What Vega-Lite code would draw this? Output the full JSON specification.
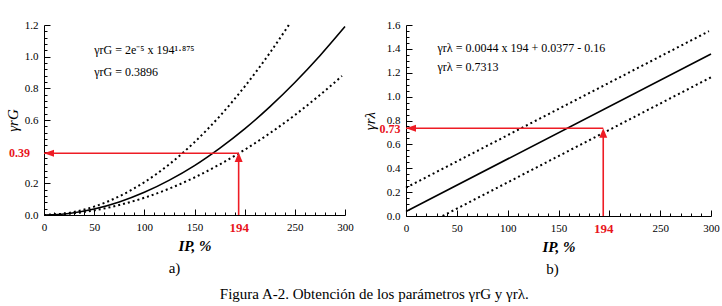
{
  "$schema": "https://vega.github.io/schema/vega-lite/v6.json",
  "background": "white",
  "padding": {"left": 5, "top": 19, "right": 5, "bottom": 5},
  "spacing": 8,
  "title": {"text": "Figura A-2. Obtención de los parámetros γrG y γrλ.", "orient": "bottom", "anchor": "middle", "font": "Liberation Serif", "fontSize": 15, "fontWeight": "normal", "color": "black", "offset": 10, "dx": 12},
  "config": {
    "font": "Liberation Serif",
    "view": {"stroke": null},
    "axis": {"grid": false, "domainColor": "black", "domainWidth": 1, "tickColor": "black", "tickWidth": 1, "labelFont": "Liberation Serif", "labelFontSize": 11, "labelColor": "black", "titleFont": "Liberation Serif", "titleColor": "black", "labelFlush": false, "labelOverlap": false}
  },
  "datasets": {
    "leftCurves": [
      {"series": "fit", "x": 0, "y": 0}, {"series": "fit", "x": 25, "y": 0.0098}, {"series": "fit", "x": 50, "y": 0.0375}, {"series": "fit", "x": 75, "y": 0.082}, {"series": "fit", "x": 100, "y": 0.143}, {"series": "fit", "x": 125, "y": 0.22}, {"series": "fit", "x": 150, "y": 0.312}, {"series": "fit", "x": 175, "y": 0.421}, {"series": "fit", "x": 200, "y": 0.544}, {"series": "fit", "x": 225, "y": 0.683}, {"series": "fit", "x": 250, "y": 0.837}, {"series": "fit", "x": 275, "y": 1.006}, {"series": "fit", "x": 300, "y": 1.19},
      {"series": "upper", "x": 0, "y": 0}, {"series": "upper", "x": 25, "y": 0.0135}, {"series": "upper", "x": 50, "y": 0.053}, {"series": "upper", "x": 75, "y": 0.118}, {"series": "upper", "x": 100, "y": 0.207}, {"series": "upper", "x": 125, "y": 0.321}, {"series": "upper", "x": 150, "y": 0.46}, {"series": "upper", "x": 175, "y": 0.623}, {"series": "upper", "x": 200, "y": 0.811}, {"series": "upper", "x": 225, "y": 1.023}, {"series": "upper", "x": 244, "y": 1.2},
      {"series": "lower", "x": 0, "y": 0}, {"series": "lower", "x": 25, "y": 0.008}, {"series": "lower", "x": 50, "y": 0.029}, {"series": "lower", "x": 75, "y": 0.063}, {"series": "lower", "x": 100, "y": 0.109}, {"series": "lower", "x": 125, "y": 0.167}, {"series": "lower", "x": 150, "y": 0.237}, {"series": "lower", "x": 175, "y": 0.319}, {"series": "lower", "x": 200, "y": 0.412}, {"series": "lower", "x": 225, "y": 0.516}, {"series": "lower", "x": 250, "y": 0.631}, {"series": "lower", "x": 275, "y": 0.758}, {"series": "lower", "x": 297, "y": 0.878}
    ],
    "rightCurves": [
      {"series": "fit", "x": 0, "y": 0.0377}, {"series": "fit", "x": 300, "y": 1.3577},
      {"series": "upper", "x": 0, "y": 0.237}, {"series": "upper", "x": 298, "y": 1.548},
      {"series": "lower", "x": 36, "y": 0}, {"series": "lower", "x": 300, "y": 1.162}
    ],
    "leftArrows": [
      {"kind": "h", "x": 194, "x2": 0, "y": 0.39, "y2": 0.39},
      {"kind": "v", "x": 194, "x2": 194, "y": 0, "y2": 0.37}
    ],
    "leftHeads": [
      {"kind": "left", "x": 0, "y": 0.39},
      {"kind": "up", "x": 194, "y": 0.395}
    ],
    "rightArrows": [
      {"kind": "h", "x": 194, "x2": 0, "y": 0.735, "y2": 0.735},
      {"kind": "v", "x": 194, "x2": 194, "y": 0, "y2": 0.71}
    ],
    "rightHeads": [
      {"kind": "left", "x": 0, "y": 0.735},
      {"kind": "up", "x": 194, "y": 0.735}
    ],
    "leftNotes": [
      {"x": 50, "y": 1.04, "label": "γrG = 2e⁻⁵ x 194¹·⁸⁷⁵"},
      {"x": 50, "y": 0.905, "label": "γrG = 0.3896"}
    ],
    "rightNotes": [
      {"x": 31, "y": 1.407, "label": "γrλ = 0.0044 x 194 + 0.0377 - 0.16"},
      {"x": 31, "y": 1.25, "label": "γrλ = 0.7313"}
    ],
    "leftRedLabel": [{"x": 0, "y": 0.39, "label": "0.39"}]
  },
  "hconcat": [
    {
      "width": 301,
      "height": 190,
      "title": {"text": "a)", "orient": "bottom", "anchor": "middle", "font": "Liberation Serif", "fontSize": 15, "fontWeight": "normal", "color": "black", "offset": 8, "dx": -20},
      "resolve": {"axis": {"x": "independent", "y": "independent"}},
      "layer": [
        {
          "data": {"name": "leftCurves"},
          "transform": [{"filter": "datum.series == 'fit'"}],
          "mark": {"type": "line", "color": "black", "strokeWidth": 1.6, "interpolate": "monotone"},
          "encoding": {
            "x": {"field": "x", "type": "quantitative", "scale": {"domain": [0, 300], "nice": false, "zero": false},
              "axis": {"orient": "bottom", "values": [0, 50, 100, 150, 194, 250, 300], "ticks": false, "labelPadding": 6, "labelFont": "Liberation Serif", "titleFont": "Liberation Serif", "title": "IP, %", "titleFontSize": 15, "titleFontWeight": "bold", "titleFontStyle": "italic", "titlePadding": 4,
                "labelColor": {"condition": {"test": "datum.value == 194", "value": "#e8141c"}, "value": "black"},
                "labelFontWeight": {"condition": {"test": "datum.value == 194", "value": "bold"}, "value": "normal"},
                "labelFontSize": {"condition": {"test": "datum.value == 194", "value": 13}, "value": 11}}},
            "y": {"field": "y", "type": "quantitative", "scale": {"domain": [0, 1.2], "nice": false, "zero": false},
              "axis": {"orient": "left", "values": [0, 0.2, 0.6, 0.8, 1.0, 1.2], "format": ".1f", "ticks": false, "labelPadding": 6, "labelFont": "Liberation Serif", "titleFont": "Liberation Serif", "title": "γrG", "titleFontSize": 15, "titleFontStyle": "italic", "titleFontWeight": "normal", "titlePadding": 4}}
          }
        },
        {
          "data": {"name": "leftCurves"},
          "transform": [{"filter": "datum.series == 'upper'"}],
          "mark": {"type": "line", "color": "black", "strokeWidth": 2, "strokeDash": [2, 3], "interpolate": "monotone"},
          "encoding": {
            "x": {"field": "x", "type": "quantitative", "axis": {"orient": "bottom", "values": [0, 50, 100, 150, 200, 250, 300], "labels": false, "domain": false, "tickSize": -6, "title": null}},
            "y": {"field": "y", "type": "quantitative", "axis": {"orient": "left", "values": [0, 0.2, 0.4, 0.6, 0.8, 1.0, 1.2], "labels": false, "domain": false, "tickSize": -6, "title": null}}
          }
        },
        {
          "data": {"name": "leftCurves"},
          "transform": [{"filter": "datum.series == 'lower'"}],
          "mark": {"type": "line", "color": "black", "strokeWidth": 2, "strokeDash": [2, 3], "interpolate": "monotone"},
          "encoding": {
            "x": {"field": "x", "type": "quantitative", "axis": {"orient": "bottom", "values": [10, 20, 30, 40, 60, 70, 80, 90, 110, 120, 130, 140, 160, 170, 180, 190, 210, 220, 230, 240, 260, 270, 280, 290], "labels": false, "domain": false, "tickSize": -3, "title": null}},
            "y": {"field": "y", "type": "quantitative", "axis": {"orient": "left", "values": [0.04, 0.08, 0.12, 0.16, 0.24, 0.28, 0.32, 0.36, 0.44, 0.48, 0.52, 0.56, 0.64, 0.68, 0.72, 0.76, 0.84, 0.88, 0.92, 0.96, 1.04, 1.08, 1.12, 1.16], "labels": false, "domain": false, "tickSize": -3, "title": null}}
          }
        },
        {
          "data": {"name": "leftArrows"},
          "mark": {"type": "rule", "color": "#ee1c24", "strokeWidth": 1.6},
          "encoding": {
            "x": {"field": "x", "type": "quantitative", "axis": null},
            "x2": {"field": "x2"},
            "y": {"field": "y", "type": "quantitative", "axis": null},
            "y2": {"field": "y2"}
          }
        },
        {
          "data": {"name": "leftHeads"},
          "mark": {"type": "point", "filled": true, "color": "#ee1c24", "opacity": 1, "size": 400},
          "encoding": {
            "x": {"field": "x", "type": "quantitative", "axis": null},
            "y": {"field": "y", "type": "quantitative", "axis": null},
            "shape": {"field": "kind", "type": "nominal", "legend": null, "scale": {"domain": ["left", "up"], "range": ["M0,0L1,-0.35L1,0.35Z", "M0,0L-0.4,0.95L0.4,0.95Z"]}}
          }
        },
        {
          "data": {"name": "leftNotes"},
          "mark": {"type": "text", "align": "left", "baseline": "middle", "font": "Liberation Serif", "fontSize": 12, "color": "black"},
          "encoding": {
            "x": {"field": "x", "type": "quantitative", "axis": null},
            "y": {"field": "y", "type": "quantitative", "axis": null},
            "text": {"field": "label"}
          }
        },
        {
          "data": {"name": "leftRedLabel"},
          "mark": {"type": "text", "align": "right", "baseline": "middle", "font": "Liberation Serif", "fontSize": 12, "fontWeight": "bold", "color": "#e8141c", "dx": -14},
          "encoding": {
            "x": {"field": "x", "type": "quantitative", "axis": null},
            "y": {"field": "y", "type": "quantitative", "axis": null},
            "text": {"field": "label"}
          }
        }
      ]
    },
    {
      "width": 305,
      "height": 191,
      "title": {"text": "b)", "orient": "bottom", "anchor": "middle", "font": "Liberation Serif", "fontSize": 15, "fontWeight": "normal", "color": "black", "offset": 8, "dx": -6},
      "resolve": {"axis": {"x": "independent", "y": "independent"}},
      "layer": [
        {
          "data": {"name": "rightCurves"},
          "transform": [{"filter": "datum.series == 'fit'"}],
          "mark": {"type": "line", "color": "black", "strokeWidth": 1.6},
          "encoding": {
            "x": {"field": "x", "type": "quantitative", "scale": {"domain": [0, 300], "nice": false, "zero": false},
              "axis": {"orient": "bottom", "values": [0, 50, 100, 150, 194, 250, 300], "ticks": false, "labelPadding": 6, "labelFont": "Liberation Serif", "titleFont": "Liberation Serif", "title": "IP, %", "titleFontSize": 15, "titleFontWeight": "bold", "titleFontStyle": "italic", "titlePadding": 4,
                "labelColor": {"condition": {"test": "datum.value == 194", "value": "#e8141c"}, "value": "black"},
                "labelFontWeight": {"condition": {"test": "datum.value == 194", "value": "bold"}, "value": "normal"},
                "labelFontSize": {"condition": {"test": "datum.value == 194", "value": 13}, "value": 11}}},
            "y": {"field": "y", "type": "quantitative", "scale": {"domain": [0, 1.6], "nice": false, "zero": false},
              "axis": {"orient": "left", "values": [0, 0.2, 0.4, 0.6, 0.73, 0.8, 1.0, 1.2, 1.4, 1.6], "labelExpr": "datum.value == 0.73 ? '0.73' : format(datum.value, '.1f')", "ticks": false, "labelPadding": 6, "labelFont": "Liberation Serif", "titleFont": "Liberation Serif", "title": "γrλ", "titleFontSize": 15, "titleFontStyle": "italic", "titleFontWeight": "normal", "titlePadding": 2,
                "labelColor": {"condition": {"test": "datum.value == 0.73", "value": "#e8141c"}, "value": "black"},
                "labelFontWeight": {"condition": {"test": "datum.value == 0.73", "value": "bold"}, "value": "normal"},
                "labelFontSize": {"condition": {"test": "datum.value == 0.73", "value": 12}, "value": 11}}}
          }
        },
        {
          "data": {"name": "rightCurves"},
          "transform": [{"filter": "datum.series == 'upper'"}],
          "mark": {"type": "line", "color": "black", "strokeWidth": 2, "strokeDash": [2, 3]},
          "encoding": {
            "x": {"field": "x", "type": "quantitative", "axis": {"orient": "bottom", "values": [0, 50, 100, 150, 200, 250, 300], "labels": false, "domain": false, "tickSize": -6, "title": null}},
            "y": {"field": "y", "type": "quantitative", "axis": {"orient": "left", "values": [0, 0.2, 0.4, 0.6, 0.8, 1.0, 1.2, 1.4, 1.6], "labels": false, "domain": false, "tickSize": -6, "title": null}}
          }
        },
        {
          "data": {"name": "rightCurves"},
          "transform": [{"filter": "datum.series == 'lower'"}],
          "mark": {"type": "line", "color": "black", "strokeWidth": 2, "strokeDash": [2, 3]},
          "encoding": {
            "x": {"field": "x", "type": "quantitative", "axis": {"orient": "bottom", "values": [10, 20, 30, 40, 60, 70, 80, 90, 110, 120, 130, 140, 160, 170, 180, 190, 210, 220, 230, 240, 260, 270, 280, 290], "labels": false, "domain": false, "tickSize": -3, "title": null}},
            "y": {"field": "y", "type": "quantitative", "axis": {"orient": "left", "values": [0.05, 0.1, 0.15, 0.25, 0.3, 0.35, 0.45, 0.5, 0.55, 0.65, 0.7, 0.75, 0.85, 0.9, 0.95, 1.05, 1.1, 1.15, 1.25, 1.3, 1.35, 1.45, 1.5, 1.55], "labels": false, "domain": false, "tickSize": -3, "title": null}}
          }
        },
        {
          "data": {"name": "rightArrows"},
          "mark": {"type": "rule", "color": "#ee1c24", "strokeWidth": 1.6},
          "encoding": {
            "x": {"field": "x", "type": "quantitative", "axis": null},
            "x2": {"field": "x2"},
            "y": {"field": "y", "type": "quantitative", "axis": null},
            "y2": {"field": "y2"}
          }
        },
        {
          "data": {"name": "rightHeads"},
          "mark": {"type": "point", "filled": true, "color": "#ee1c24", "opacity": 1, "size": 400},
          "encoding": {
            "x": {"field": "x", "type": "quantitative", "axis": null},
            "y": {"field": "y", "type": "quantitative", "axis": null},
            "shape": {"field": "kind", "type": "nominal", "legend": null, "scale": {"domain": ["left", "up"], "range": ["M0,0L1,-0.35L1,0.35Z", "M0,0L-0.4,0.95L0.4,0.95Z"]}}
          }
        },
        {
          "data": {"name": "rightNotes"},
          "mark": {"type": "text", "align": "left", "baseline": "middle", "font": "Liberation Serif", "fontSize": 12, "color": "black"},
          "encoding": {
            "x": {"field": "x", "type": "quantitative", "axis": null},
            "y": {"field": "y", "type": "quantitative", "axis": null},
            "text": {"field": "label"}
          }
        }
      ]
    }
  ]
}
